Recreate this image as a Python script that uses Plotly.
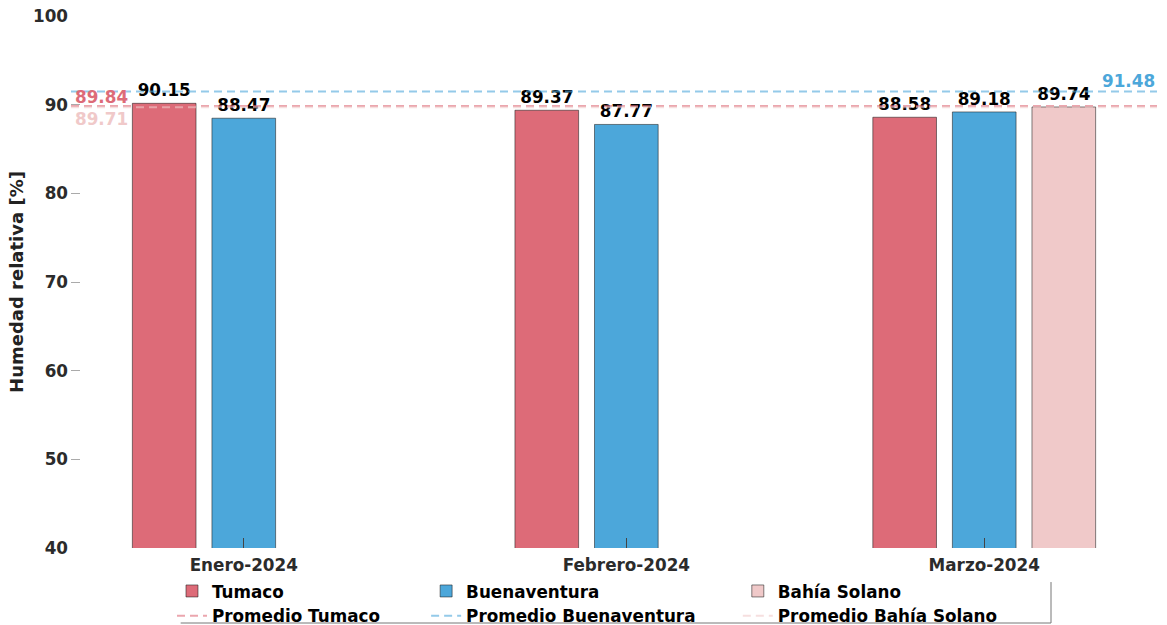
import plotly.graph_objects as go

# Monthly mean relative humidity per station
months = ["2024-01-01", "2024-02-01", "2024-03-01"]
month_labels = ["Enero-2024", "Febrero-2024", "Marzo-2024"]

tumaco = [90.15, 89.37, 88.58]
buenaventura = [88.47, 87.77, 89.18]
bahia_months = ["2024-03-01"]
bahia_solano = [89.74]

# Period averages per station
prom_tumaco = 89.84
prom_buenaventura = 91.48
prom_bahia = 89.71

X_START, X_END = "2023-12-18", "2024-03-15"

C_TUM = "#DD6B78"
C_BUE = "#4CA7DA"
C_BAH = "#F0C9C9"

FONT = "DejaVu Sans"
FS = 16.8
bold_txt = dict(family=FONT, size=FS, color="#000000", weight="bold")
outline = dict(color="rgba(30,30,30,0.55)", width=1)

fig = go.Figure()

bars = [
    ("Tumaco", months, tumaco, C_TUM, "legend"),
    ("Buenaventura", months, buenaventura, C_BUE, "legend2"),
    ("Bahía Solano", bahia_months, bahia_solano, C_BAH, "legend3"),
]
for name, xs, ys, col, lg in bars:
    fig.add_trace(go.Bar(
        name=name, x=xs, y=ys, marker=dict(color=col, line=outline),
        text=[f"{v:.2f}" for v in ys], textposition="outside",
        textfont=bold_txt, cliponaxis=False, legend=lg,
    ))

lines = [
    ("Promedio Tumaco", prom_tumaco, "rgba(221,107,120,0.6)", "legend"),
    ("Promedio Buenaventura", prom_buenaventura, "rgba(76,167,218,0.6)", "legend2"),
    ("Promedio Bahía Solano", prom_bahia, "rgba(240,201,201,0.6)", "legend3"),
]
for name, val, col, lg in lines:
    fig.add_trace(go.Scatter(
        name=name, x=[X_START, X_END], y=[val, val], mode="lines",
        line=dict(color=col, width=2, dash="8px,5px"), legend=lg,
        hoverinfo="skip",
    ))

# Average value labels at the plot edges
fig.add_annotation(x=0, xref="paper", y=prom_tumaco, yref="y", text=f"{prom_tumaco:.2f}",
                   showarrow=False, xanchor="left", yanchor="bottom", xshift=2, yshift=-3,
                   font=dict(family=FONT, size=FS, color=C_TUM, weight="bold"))
fig.add_annotation(x=0, xref="paper", y=prom_bahia, yref="y", text=f"{prom_bahia:.2f}",
                   showarrow=False, xanchor="left", yanchor="top", xshift=2, yshift=0,
                   font=dict(family=FONT, size=FS, color=C_BAH, weight="bold"))
fig.add_annotation(x=1, xref="paper", y=prom_buenaventura, yref="y", text=f"{prom_buenaventura:.2f}",
                   showarrow=False, xanchor="right", yanchor="bottom", xshift=0, yshift=-1,
                   font=dict(family=FONT, size=FS, color=C_BUE, weight="bold"))

legend_common = dict(orientation="v", yanchor="top", xanchor="left", y=-0.048,
                     bgcolor="rgba(0,0,0,0)", font=bold_txt, tracegroupgap=0,
                     itemclick=False)

tick_font = dict(family=FONT, size=FS, color="#2b2b2b", weight="bold")

fig.update_layout(
    width=1167, height=625,
    margin=dict(l=71, r=10, t=16, b=77, autoexpand=False),
    paper_bgcolor="white", plot_bgcolor="white",
    barmode="group", bargap=0.333, bargroupgap=0.2,
    font=dict(family=FONT, size=FS, color="#2b2b2b"),
    xaxis=dict(type="date", range=[X_START, X_END], tickvals=months, ticktext=month_labels,
               ticks="inside", ticklen=10, tickcolor="#444", showgrid=False, zeroline=False,
               showline=False, tickfont=tick_font, ticklabelstandoff=5),
    yaxis=dict(range=[40, 100], dtick=10, ticks="inside", ticklen=9, tickcolor="#aaaaaa",
               showgrid=False, zeroline=False, showline=False,
               tickfont=tick_font, ticklabelstandoff=2,
               title=dict(text="Humedad relativa [%]", standoff=4,
                          font=dict(family=FONT, size=18, color="#222222", weight="bold"))),
    legend=dict(legend_common, x=0.093),
    legend2=dict(legend_common, x=0.327),
    legend3=dict(legend_common, x=0.614),
    showlegend=True,
    shapes=[
        dict(type="line", xref="paper", yref="paper", x0=0.101, x1=0.9024, y0=-0.141, y1=-0.141,
             line=dict(color="#777777", width=1)),
        dict(type="line", xref="paper", yref="paper", x0=0.9024, x1=0.9024, y0=-0.064, y1=-0.141,
             line=dict(color="#777777", width=1)),
    ],
)

fig.write_html("out.html")
